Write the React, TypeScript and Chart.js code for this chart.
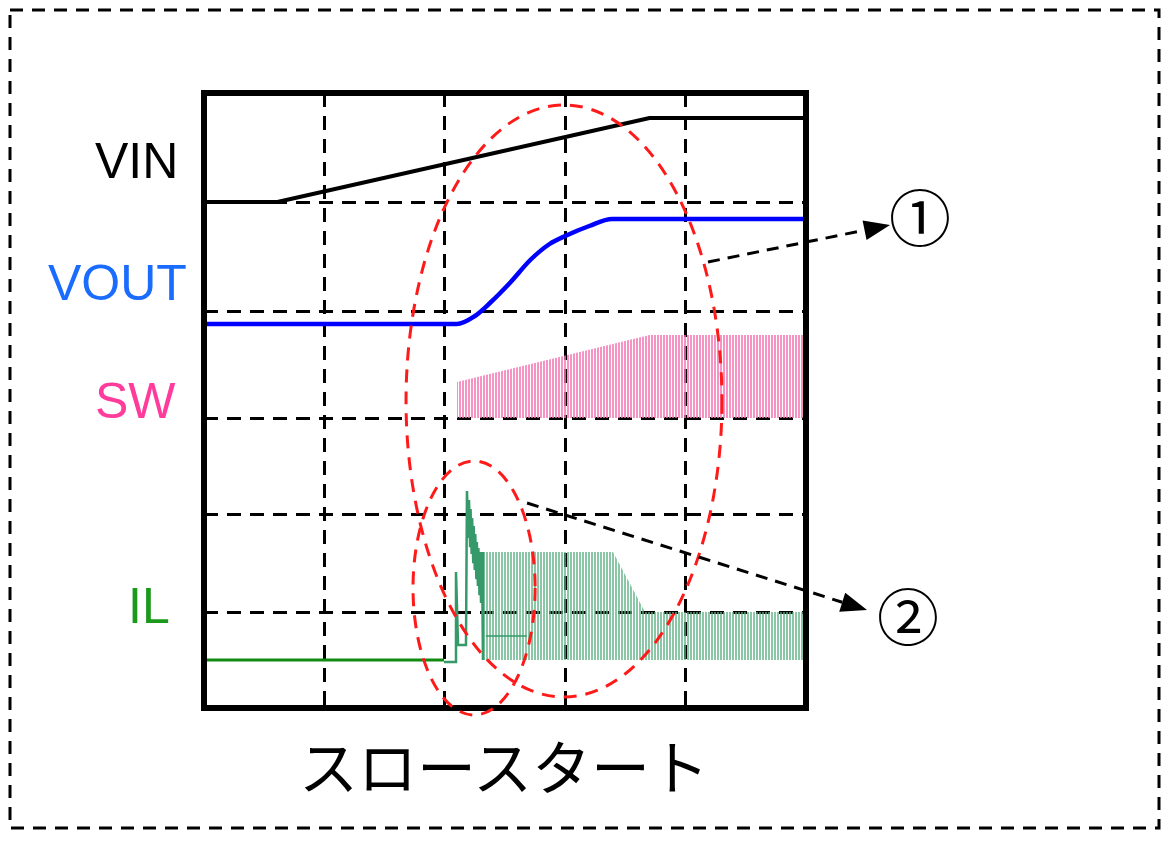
import React, { useEffect, useRef } from "react";
import { Chart, registerables } from "chart.js";

Chart.register(...registerables);

// Axis: x in screen divisions (5 across), y in arbitrary units (0 .. 6.15)
const X_MAX = 5;
const Y_MAX = 6.15;
const X_GRID = [1, 2, 3, 4];
const Y_GRID = [0.96, 1.94, 2.9, 3.97, 5.06];

// VIN
const VIN_T = [0, 0.61, 3.7, 5];
const VIN_V = [5.06, 5.06, 5.9, 5.9];

// VOUT
const VOUT_T = [0, 2.1, 2.25, 2.375, 2.54, 2.71, 2.87, 3.0, 3.2, 3.39, 5];
const VOUT_V = [3.84, 3.84, 3.92, 4.05, 4.25, 4.48, 4.64, 4.72, 4.82, 4.89, 4.89];

// SW switching envelope (hatched)
const SW_T = [2.1, 3.7, 5];
const SW_TOP = [3.26, 3.73, 3.73];
const SW_BASE = 2.9;

// IL before start
const IL_IDLE_T = [0, 1.993];
const IL_IDLE_V = [0.48, 0.48];

// IL inrush spike / ringing at start
const IL_START_T = [1.993, 2.085, 2.093, 2.11, 2.176, 2.184, 2.197, 2.201, 2.21, 2.214, 2.223, 2.227, 2.236, 2.24, 2.249, 2.253, 2.262, 2.266, 2.275, 2.279, 2.288, 2.292, 2.301, 2.309, 2.317];
const IL_START_V = [0.46, 0.46, 1.36, 0.63, 0.63, 2.17, 1.7, 2.08, 1.62, 1.99, 1.54, 1.9, 1.46, 1.82, 1.38, 1.74, 1.3, 1.66, 1.22, 1.6, 1.14, 1.56, 1.05, 1.56, 0.48];

// IL thin level inside circle 2
const IL_HOLD_T = [2.34, 2.68];
const IL_HOLD_V = [0.72, 0.72];

// IL switching envelope (hatched)
const IL_T = [2.309, 3.397, 3.663, 5];
const IL_TOP = [1.56, 1.56, 0.96, 0.96];
const IL_BASE = 0.48;

// annotations (data units)
const RING_BIG = [2.99, 3.07, 1.312, 2.96];
const RING_SMALL = [2.243, 1.2, 0.507, 1.27];
const ARROW_1 = [4.186, 4.46, 5.698, 4.83];
const ARROW_2 = [2.683, 2.05, 5.507, 0.98];

const pts = (t: number[], v: number[]) => t.map((x, i) => ({ x, y: v[i] }));

function stripes(color: string, period: number, w: number) {
  const c = document.createElement("canvas");
  c.width = period;
  c.height = 4;
  const g = c.getContext("2d")!;
  g.fillStyle = color;
  g.fillRect(0, 0, w, 4);
  return g.createPattern(c, "repeat")!;
}

const overlay = {
  id: "overlay",
  afterDraw(chart: any) {
    const { ctx, chartArea: a, scales } = chart;
    const xs = scales.x;
    const ys = scales.y;
    const px = (v: number) => xs.getPixelForValue(v);
    const py = (v: number) => ys.getPixelForValue(v);
    ctx.save();
    // plot frame
    ctx.setLineDash([]);
    ctx.strokeStyle = "#000";
    ctx.lineWidth = 6;
    ctx.strokeRect(a.left, a.top, a.right - a.left, a.bottom - a.top);
    // outer dashed frame
    ctx.lineWidth = 3;
    ctx.setLineDash([13, 9]);
    ctx.strokeRect(10, 10, 1149, 818);
    // red rings
    ctx.strokeStyle = "#ff1a1a";
    ctx.lineWidth = 3;
    ctx.setLineDash([13, 9]);
    for (const r of [RING_BIG, RING_SMALL]) {
      const cx = px(r[0]);
      const cy = py(r[1]);
      const rx = Math.abs(px(r[0] + r[2]) - cx);
      const ry = Math.abs(py(r[1] + r[3]) - cy);
      ctx.beginPath();
      ctx.ellipse(cx, cy, rx, ry, 0, 0, Math.PI * 2);
      ctx.stroke();
    }
    // arrows
    for (const ar of [ARROW_1, ARROW_2]) {
      const x0 = px(ar[0]);
      const y0 = py(ar[1]);
      const x1 = px(ar[2]);
      const y1 = py(ar[3]);
      const ang = Math.atan2(y1 - y0, x1 - x0);
      const L = 26;
      const W = 10;
      const bx = x1 - L * Math.cos(ang);
      const by = y1 - L * Math.sin(ang);
      ctx.strokeStyle = "#000";
      ctx.lineWidth = 3;
      ctx.setLineDash([12, 8]);
      ctx.beginPath();
      ctx.moveTo(x0, y0);
      ctx.lineTo(bx, by);
      ctx.stroke();
      ctx.setLineDash([]);
      ctx.fillStyle = "#000";
      ctx.beginPath();
      ctx.moveTo(x1, y1);
      ctx.lineTo(bx + W * Math.sin(ang), by - W * Math.cos(ang));
      ctx.lineTo(bx - W * Math.sin(ang), by + W * Math.cos(ang));
      ctx.closePath();
      ctx.fill();
    }
    ctx.restore();
  },
};

const labelFont = '"Liberation Sans", Arial, Helvetica, sans-serif';
const jpFont = '"Noto Sans CJK JP", "Noto Sans CJK SC", sans-serif';

export default function App() {
  const ref = useRef<HTMLCanvasElement | null>(null);

  useEffect(() => {
    if (!ref.current) return;
    const swPattern = stripes("rgba(242,120,180,0.8)", 3, 2);
    const ilPattern = stripes("rgba(90,175,130,0.7)", 3, 2);
    const gridAxis = (min: number, max: number, ticks: number[]) => ({
      type: "linear" as const,
      min,
      max,
      afterBuildTicks: (s: any) => {
        s.ticks = ticks.map((v) => ({ value: v }));
      },
      ticks: { display: false },
      grid: { color: "#000", lineWidth: 3, drawTicks: false },
      border: { display: false, dash: [14, 9] },
    });
    const chart = new Chart(ref.current, {
      type: "line",
      data: {
        datasets: [
          { label: "VIN", data: pts(VIN_T, VIN_V), borderColor: "#000", borderWidth: 4, pointRadius: 0, fill: false, tension: 0 },
          { label: "VOUT", data: pts(VOUT_T, VOUT_V), borderColor: "#0000ff", borderWidth: 4.5, pointRadius: 0, fill: false, cubicInterpolationMode: "monotone" },
          { label: "IL idle", data: pts(IL_IDLE_T, IL_IDLE_V), borderColor: "#118a11", borderWidth: 3, pointRadius: 0, fill: false, tension: 0 },
          { label: "IL start", data: pts(IL_START_T, IL_START_V), borderColor: "#35996a", borderWidth: 2.5, pointRadius: 0, fill: false, tension: 0 },
          { label: "IL hold", data: pts(IL_HOLD_T, IL_HOLD_V), borderColor: "#35996a", borderWidth: 1.5, pointRadius: 0, fill: false, tension: 0 },
          { label: "SW", data: pts(SW_T, SW_TOP), borderWidth: 0, borderColor: "rgba(0,0,0,0)", backgroundColor: swPattern, pointRadius: 0, fill: { value: SW_BASE }, tension: 0 },
          { label: "IL", data: pts(IL_T, IL_TOP), borderWidth: 0, borderColor: "rgba(0,0,0,0)", backgroundColor: ilPattern, pointRadius: 0, fill: { value: IL_BASE }, tension: 0 },
        ] as any,
      },
      options: {
        animation: false,
        responsive: false,
        maintainAspectRatio: false,
        devicePixelRatio: 1,
        events: [],
        layout: { autoPadding: false, padding: { left: 204, top: 93, right: 364, bottom: 135 } },
        plugins: { legend: { display: false }, tooltip: { enabled: false }, title: { display: false } },
        scales: {
          x: gridAxis(0, X_MAX, X_GRID),
          y: gridAxis(0, Y_MAX, Y_GRID),
        } as any,
      },
      plugins: [overlay],
    });
    return () => chart.destroy();
  }, []);

  const lbl = (text: string, left: number, top: number, color: string) => (
    <div style={{ position: "absolute", left, top, fontFamily: labelFont, fontSize: 50, lineHeight: "50px", color, whiteSpace: "nowrap" }}>{text}</div>
  );
  const circ = (text: string, cx: number, cy: number) => (
    <div style={{ position: "absolute", left: cx - 60, top: cy - 60, width: 120, height: 120, display: "flex", alignItems: "center", justifyContent: "center", fontFamily: jpFont, fontSize: 62, lineHeight: "62px", color: "#000" }}>{text}</div>
  );

  return (
    <div style={{ position: "absolute", left: 0, top: 0, width: 1170, height: 843, background: "#fff", overflow: "hidden" }}>
      <canvas ref={ref} width={1170} height={843} style={{ display: "block", position: "absolute", left: 0, top: 0 }} />
      {lbl("VIN", 95, 136, "#000")}
      {lbl("VOUT", 48, 258, "#1a6cff")}
      {lbl("SW", 95, 376, "#ff3c9c")}
      {lbl("IL", 128, 581, "#1a991a")}
      {circ("①", 920, 215)}
      {circ("②", 908, 614)}
      <div style={{ position: "absolute", left: 204, top: 735, width: 600, textAlign: "center", fontFamily: jpFont, fontSize: 59, lineHeight: "59px", color: "#000", whiteSpace: "nowrap" }}>スロースタート</div>
    </div>
  );
}
